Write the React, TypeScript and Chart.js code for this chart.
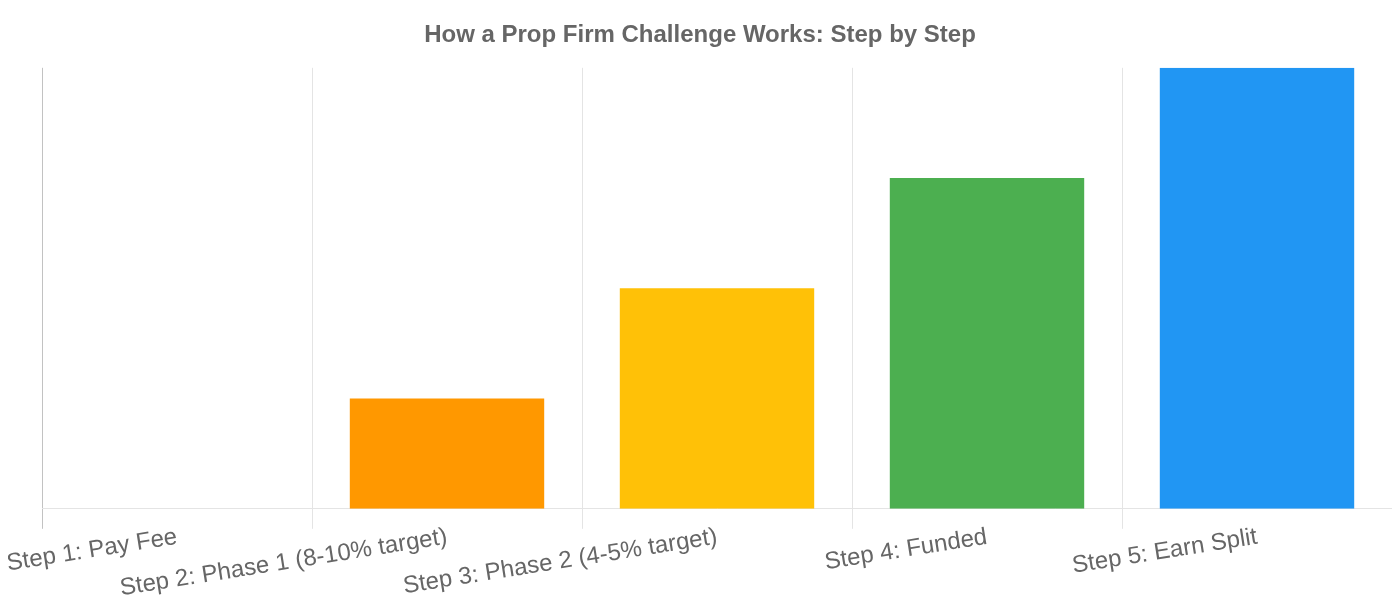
import React, { useEffect, useRef } from "react";
import { Chart, registerables } from "chart.js";

Chart.register(...registerables);

const categories = [
  "Step 1: Pay Fee",
  "Step 2: Phase 1 (8-10% target)",
  "Step 3: Phase 2 (4-5% target)",
  "Step 4: Funded",
  "Step 5: Earn Split",
];
const stepValues = [0, 1, 2, 3, 4];
const barColors = ["#F44336", "#FF9800", "#FFC107", "#4CAF50", "#2196F3"];
const chartTitle = "How a Prop Firm Challenge Works: Step by Step";

export default function App() {
  const ref = useRef<HTMLCanvasElement | null>(null);
  useEffect(() => {
    if (!ref.current) return;
    const chart = new Chart(ref.current, {
      type: "bar",
      data: {
        labels: categories,
        datasets: [
          {
            label: "Step",
            data: stepValues,
            backgroundColor: barColors,
          },
        ],
      },
      options: {
        animation: false,
        responsive: true,
        maintainAspectRatio: false,
        layout: { padding: { top: 5 } },
        plugins: {
          legend: { display: false },
          tooltip: { enabled: false },
          title: {
            display: true,
            text: chartTitle,
            color: "#666",
            font: { family: "'Liberation Sans', Arial, sans-serif", size: 24, weight: "bold" },
            padding: { top: 8, bottom: 18 },
          },
        },
        scales: {
          x: {
            afterFit: (scale: any) => {
              scale.paddingLeft = 34;
            },
            grid: {
              color: (ctx: any) => (ctx.index === 0 ? "#c2c2c2" : "#e4e4e4"),
              tickLength: 20,
            },
            border: { color: "#e4e4e4" },
            ticks: {
              color: "#666",
              padding: -6,
              minRotation: 9,
              maxRotation: 9,
              font: { family: "'Liberation Sans', Arial, sans-serif", size: 24 },
            },
          },
          y: {
            beginAtZero: true,
            ticks: { display: false },
            grid: { display: false },
            border: { display: false },
          },
        },
      },
    });
    return () => chart.destroy();
  }, []);
  return (
    <div style={{ position: "relative", width: "100%", height: "589px" }}>
      <canvas ref={ref} />
    </div>
  );
}
